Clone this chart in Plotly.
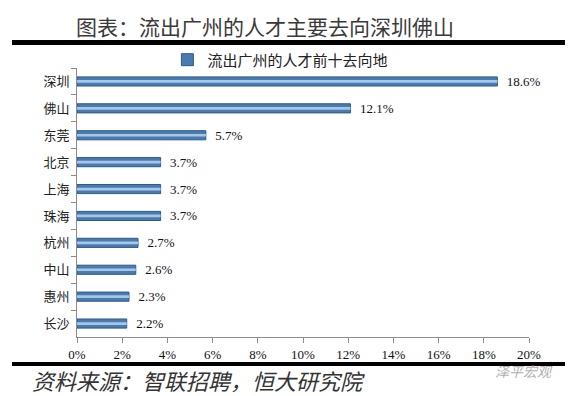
import plotly.graph_objects as go

cities = ["深圳", "佛山", "东莞", "北京", "上海", "珠海", "杭州", "中山", "惠州", "长沙"]
shares = [18.6, 12.1, 5.7, 3.7, 3.7, 3.7, 2.7, 2.6, 2.3, 2.2]
x_ticks = [0, 2, 4, 6, 8, 10, 12, 14, 16, 18, 20]
x_tick_labels = ["0%", "2%", "4%", "6%", "8%", "10%", "12%", "14%", "16%", "18%", "20%"]
series_name = "流出广州的人才前十去向地"
title_text = "图表：流出广州的人才主要去向深圳佛山"
source_text = "资料来源：智联招聘，恒大研究院"
brand_text = "泽平宏观"

CJK = "Noto Sans CJK SC"
SERIF = "Liberation Serif"

fig = go.Figure()
fig.add_trace(go.Bar(
    y=cities, x=shares, orientation="h", name=series_name,
    marker=dict(color="#4a7bb0", line=dict(color="#2d5a88", width=1)),
    width=0.34,
    text=[f"\u00a0\u00a0{v:.1f}%" for v in shares], textposition="outside",
    constraintext="none",
    textfont=dict(family=SERIF, size=13, color="#111"),
    cliponaxis=False, showlegend=True,
))
fig.add_trace(go.Bar(
    y=cities, x=shares, orientation="h", name=series_name,
    marker=dict(color="#a6c6e6", line=dict(width=0)),
    width=0.1, showlegend=False, hoverinfo="skip",
))

fig.update_layout(
    width=569, height=396,
    margin=dict(l=77, r=40, t=68, b=59),
    paper_bgcolor="white", plot_bgcolor="white",
    barmode="overlay",
    showlegend=True,
    legend=dict(orientation="h", x=0.2, y=1.03, xanchor="left", yanchor="middle",
                font=dict(family=CJK, size=15, color="#222"),
                itemwidth=30, bgcolor="rgba(0,0,0,0)"),
    xaxis=dict(range=[0, 20], tickmode="array", tickvals=x_ticks, ticktext=x_tick_labels,
               showgrid=False, zeroline=False,
               showline=True, linecolor="#8c8c8c", linewidth=1,
               ticks="outside", ticklen=5, tickcolor="#8c8c8c",
               tickfont=dict(family=SERIF, size=13, color="#111")),
    yaxis=dict(categoryorder="array", categoryarray=cities, range=[9.5, -0.5],
               showgrid=False, zeroline=False,
               showline=True, linecolor="#8c8c8c", linewidth=1,
               ticks="outside", tickson="boundaries", ticklen=5, tickcolor="#8c8c8c",
               tickfont=dict(family=CJK, size=13, color="#222"), ticklabelstandoff=4),
    shapes=[
        dict(type="line", xref="paper", yref="paper", x0=-0.1438, x1=1.0796,
             y0=1.0948, y1=1.0948, line=dict(color="black", width=5)),
        dict(type="line", xref="paper", yref="paper", x0=-0.1438, x1=1.0796,
             y0=-0.1004, y1=-0.1004, line=dict(color="black", width=4)),
    ],
    annotations=[
        dict(text=title_text, xref="paper", yref="paper", x=0.416, y=1.156,
             xanchor="center", yanchor="middle", showarrow=False,
             font=dict(family=CJK, size=21, color="#3a3a3a")),
        dict(text=f"<i>{source_text}</i>", xref="paper", yref="paper", x=-0.104, y=-0.16,
             xanchor="left", yanchor="middle", showarrow=False,
             font=dict(family=CJK, size=22, color="#333")),
        dict(text=f"<i>{brand_text}</i>", xref="paper", yref="paper", x=0.92, y=-0.125,
             xanchor="left", yanchor="middle", showarrow=False,
             font=dict(family=CJK, size=14, color="#b0b0b0")),
    ],
)

fig.write_html("out.html", config={"displayModeBar": False},
               post_script="document.body.style.margin='0';")
